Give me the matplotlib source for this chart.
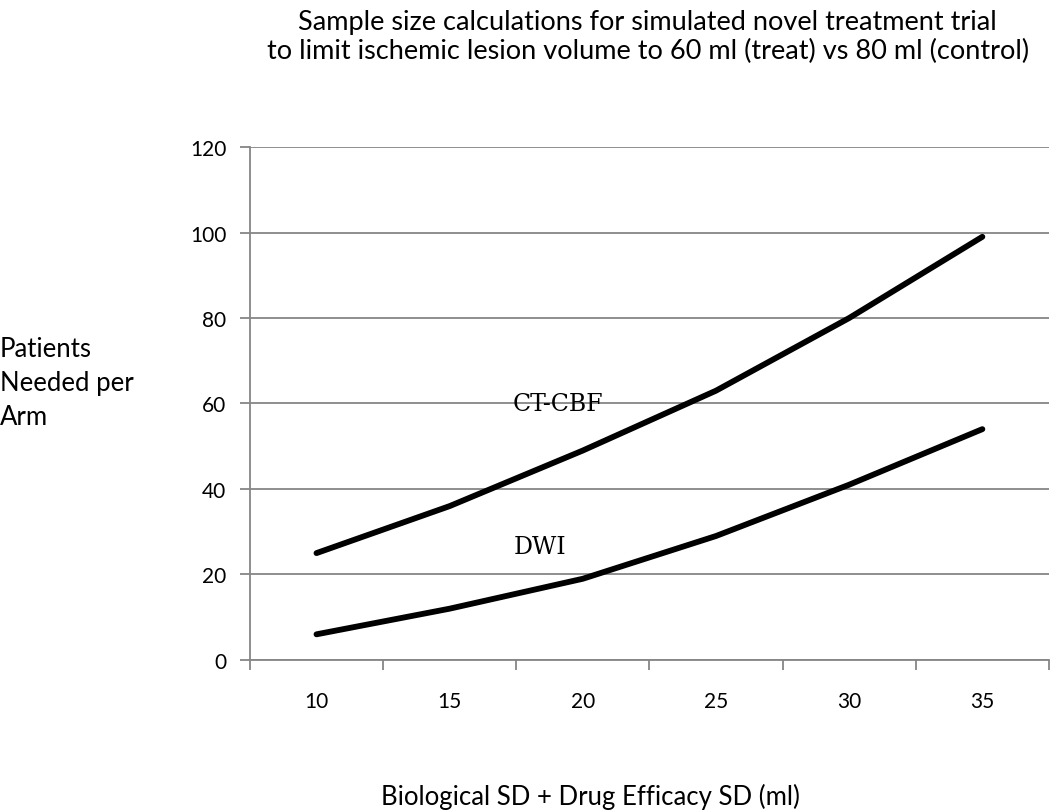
import numpy as np
import matplotlib.pyplot as plt

plt.rcParams['font.family'] = ['Lato', 'DejaVu Sans']

sd_vals = [10, 15, 20, 25, 30, 35]
ct_cbf = [25, 36, 49, 63, 80, 99]
dwi = [6, 12, 19, 29, 41, 54]
y_ticks = [0, 20, 40, 60, 80, 100, 120]

fig = plt.figure(figsize=(10.5, 8.12), dpi=100)
ax = fig.add_axes([0.238, 0.186, 0.761, 0.6317])

pos = np.arange(len(sd_vals))
ax.plot(pos, ct_cbf, c='black', lw=4.2, solid_capstyle='round')
ax.plot(pos, dwi, c='black', lw=4.2, solid_capstyle='round')

ax.set_xlim(-0.5, len(sd_vals) - 0.5)
ax.set_ylim(0, 120)
ax.set_yticks(y_ticks)
ax.set_xticks(pos)
ax.set_xticklabels([str(v) for v in sd_vals])
ax.set_xticks(np.arange(-0.5, len(sd_vals)), minor=True)
ax.tick_params(axis='x', which='major', length=0, pad=22, labelsize=15)
ax.tick_params(axis='x', which='minor', length=7, width=1.3, color='#868686', direction='out')
ax.tick_params(axis='y', length=7, width=1.3, color='#868686', labelsize=15, pad=10)
ax.grid(axis='y', color='#868686', lw=1.3)
ax.set_axisbelow(True)
for s in ['top', 'right']:
    ax.spines[s].set_visible(False)
for s in ['left', 'bottom']:
    ax.spines[s].set_color('#868686')
    ax.spines[s].set_linewidth(1.3)

ax.text(1.81, 60, 'CT-CBF', family='DejaVu Serif', fontsize=17, ha='center', va='center')
ax.text(1.68, 26.5, 'DWI', family='DejaVu Serif', fontsize=17, ha='center', va='center')

fig.text(0.617, 0.988, 'Sample size calculations for simulated novel treatment trial\n'
         'to limit ischemic lesion volume to 60 ml (treat) vs 80 ml (control)',
         ha='center', va='top', fontsize=19.5, linespacing=1.2)
fig.text(0.0, 0.528, 'Patients\nNeeded per\nArm', ha='left', va='center', fontsize=18.5, linespacing=1.45)
fig.text(0.562, 0.018, 'Biological SD + Drug Efficacy SD (ml)', ha='center', va='center', fontsize=18.5)

fig.savefig('out.png', dpi=100)
